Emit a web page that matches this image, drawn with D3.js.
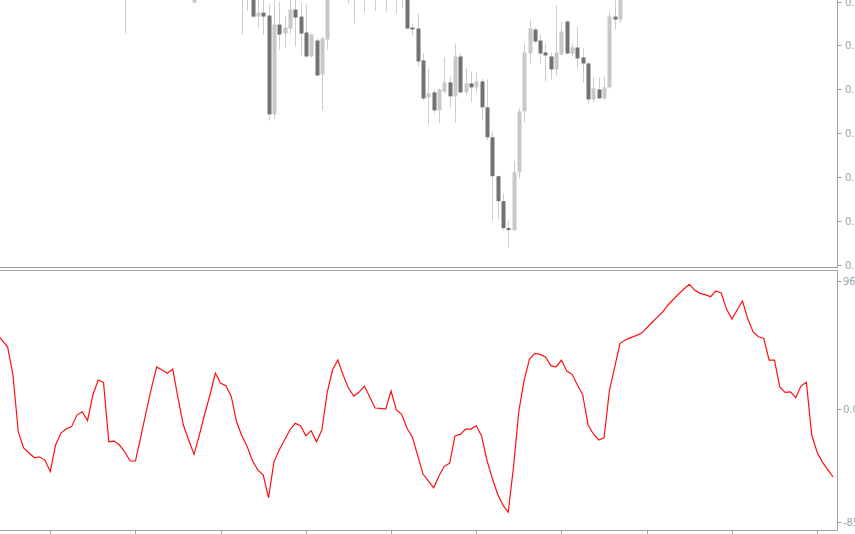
<html lang="en">
  <head>
    <meta charset="utf-8">
    <title>Candles and oscillator</title>
    <script src="https://d3js.org/d3.v7.min.js"></script>
    <style>
      body { margin: 0; background: #fff; }
      text { font-family: "DejaVu Sans", sans-serif; font-size: 10px; fill: #a0a4ac; }
    </style>
  </head>
  <body>
    <script type="text/javascript">
      var w = 855;
      var h = 534;
      var nBars = 158;

      // visible candles (bar index + OHLC)
      var barIdx = [24, 37, 46, 47, 48, 49, 50, 51, 52, 53, 54, 55, 56, 57, 58, 59, 60, 61, 62, 66, 67, 69, 71, 73, 75, 76,
                    77, 78, 79, 80, 81, 82, 83, 84, 85, 86, 87, 88, 89, 90, 91, 92, 93, 94, 95, 96, 97, 98, 99, 100,
                    101, 102, 103, 104, 105, 106, 107, 108, 109, 110, 111, 112, 113, 114, 115, 116, 117];
      var open  = [.7813, .7803, .7810, .7808, .7815, .7789, .7793, .7790, .7691, .7781, .7772, .7777, .7796, .7789, .7773, .7749, .7765, .7731, .7766, .7810, .7810, .7810, .7810, .7810, .7810, .7810,
                   .7815, .7778, .7777, .7745, .7708, .7713, .7695, .7714, .7723, .7709, .7749, .7713, .7722, .7718, .7724, .7698, .7668, .7629, .7604, .7577, .7575, .7633, .7694, .7752,
                   .7776, .7765, .7753, .7749, .7736, .7751, .7784, .7752, .7758, .7748, .7742, .7706, .7716, .7707, .7718, .7789, .7786];
      var high  = [.7840, .7820, .7825, .7825, .7825, .7807, .7807, .7801, .7807, .7804, .7790, .7807, .7807, .7803, .7801, .7772, .7767, .7769, .7820, .7823, .7823, .7823, .7823, .7823, .7823, .7823,
                   .7820, .7782, .7792, .7752, .7737, .7716, .7717, .7748, .7729, .7762, .7752, .7737, .7734, .7733, .7727, .7726, .7674, .7630, .7612, .7585, .7644, .7697, .7762, .7786,
                   .7778, .7771, .7762, .7753, .7800, .7784, .7785, .7762, .7779, .7757, .7743, .7729, .7728, .7729, .7794, .7807, .7820];
      var low   = [.7772, .7802, .7771, .7795, .7788, .7778, .7771, .7685, .7686, .7756, .7758, .7772, .7759, .7750, .7748, .7748, .7729, .7695, .7756, .7802, .7782, .7793, .7795, .7794, .7792, .7798,
                   .7776, .7770, .7739, .7705, .7681, .7692, .7682, .7712, .7698, .7683, .7712, .7710, .7703, .7713, .7685, .7665, .7585, .7586, .7575, .7557, .7574, .7627, .7683, .7742,
                   .7762, .7742, .7724, .7726, .7730, .7750, .7751, .7749, .7737, .7723, .7702, .7703, .7706, .7705, .7717, .7776, .7783];
      var close = [.7830, .7811, .7820, .7817, .7789, .7793, .7789, .7691, .7781, .7771, .7778, .7796, .7788, .7772, .7749, .7771, .7730, .7767, .7815, .7817, .7817, .7817, .7817, .7817, .7817, .7817,
                   .7777, .7776, .7744, .7707, .7712, .7695, .7716, .7723, .7709, .7749, .7713, .7722, .7718, .7724, .7698, .7668, .7629, .7604, .7577, .7575, .7633, .7694, .7753, .7777,
                   .7764, .7752, .7750, .7736, .7753, .7774, .7752, .7758, .7747, .7742, .7706, .7717, .7707, .7718, .7789, .7786, .7815];

      // oscillator, one value per bar
      var osc = [56.2, 51.3, 46.4, 25.4, -17.4, -29.4, -33.2, -36.6, -36.2, -38.5,
                 -47.2, -27.2, -18.2, -15.2, -13.4, -4.7, -2.2, -8.9, 10.4, 21.6,
                 19.9, -24.7, -24.2, -27.2, -32.4, -39.2, -39.2, -21.0, -2.4, 15.6,
                 31.4, 29.1, 26.7, 29.9, 8.1, -12.2, -23.4, -34.2, -19.7, -3.9,
                 10.4, 26.7, 19.2, 17.3, 9.1, -9.9, -20.4, -28.5, -39.2, -46.0,
                 -49.7, -66.8, -40.0, -30.9, -23.4, -15.9, -10.9, -12.7, -20.2, -16.4,
                 -24.7, -15.9, 11.9, 29.1, 36.6, 25.4, 15.6, 9.6, 12.6, 17.1,
                 8.9, 0.6, 0.4, -0.2, 13.4, -0.9, -4.1, -14.6, -21.2, -35.0,
                 -49.0, -54.2, -59.3, -50.5, -43.0, -40.9, -20.4, -19.2, -15.2, -15.2,
                 -12.7, -20.4, -38.5, -52.0, -64.0, -72.2, -77.7, -43.7, -1.7, 21.6,
                 37.4, 41.7, 40.9, 38.9, 32.4, 31.6, 36.6, 28.4, 25.9, 17.9,
                 10.4, -12.2, -18.9, -23.4, -21.7, 13.4, 31.4, 49.2, 51.7, 53.5,
                 55.0, 56.7, 60.7, 64.8, 68.9, 72.7, 78.0, 82.1, 86.2, 90.0,
                 93.5, 89.2, 86.7, 85.8, 84.2, 88.5, 87.0, 74.9, 67.4, 74.2,
                 81.0, 67.4, 57.7, 54.1, 52.8, 36.6, 36.6, 16.4, 12.4, 12.8,
                 8.3, 17.3, 19.9, -19.7, -32.4, -40.0, -45.6, -51.2];

      var priceTicks = [0.7540, 0.7584, 0.7628, 0.7672, 0.7716, 0.7760, 0.7804];
      var oscTicks = [-85, 0, 96];
      var oscLabels = ["-85.00", "0.00", "96.00"];
      var timeTicks = [10, 26, 42, 58, 74, 90, 106, 122, 138, 154];

      var axisX = 837.5;
      var topBottom = 267.5;
      var botTop = 270.5;
      var botBottom = 530.5;

      var xScale = d3.scaleLinear().domain([0, nBars - 1]).range([-3, -3 + (nBars - 1) * 5.325]);
      var yPrice = d3.scaleLinear().domain([0.7540, 0.7804]).range([265, 1.6]);
      var yOsc = d3.scaleLinear().domain([-85, 96]).range([522, 281]);

      var svg = d3.select("body").append("svg")
                  .attr("width", w)
                  .attr("height", h);

      var defs = svg.append("defs");
      defs.append("clipPath").attr("id", "clipTop")
          .append("rect").attr("x", 0).attr("y", 0).attr("width", axisX).attr("height", topBottom);
      defs.append("clipPath").attr("id", "clipBot")
          .append("rect").attr("x", 0).attr("y", botTop + 0.5).attr("width", axisX).attr("height", botBottom - botTop - 1);

      // candles
      var candles = barIdx.map(function (b, i) {
        return {b: b, o: open[i], h: high[i], l: low[i], c: close[i]};
      });
      var gTop = svg.append("g").attr("clip-path", "url(#clipTop)");
      gTop.selectAll("line.wick")
          .data(candles)
          .enter()
          .append("line")
          .attr("class", "wick")
          .attr("x1", function (d) { return Math.round(xScale(d.b)) + 0.5; })
          .attr("x2", function (d) { return Math.round(xScale(d.b)) + 0.5; })
          .attr("y1", function (d) { return yPrice(d.h); })
          .attr("y2", function (d) { return yPrice(d.l); })
          .style("stroke", "#cdcdcd")
          .attr("stroke-width", 1);
      gTop.selectAll("rect.body")
          .data(candles)
          .enter()
          .append("rect")
          .attr("class", "body")
          .attr("x", function (d) { return Math.round(xScale(d.b)) - 1.5; })
          .attr("width", 4)
          .attr("y", function (d) { return yPrice(Math.max(d.o, d.c)); })
          .attr("height", function (d) { return Math.max(1.5, Math.abs(yPrice(d.o) - yPrice(d.c))); })
          .style("fill", function (d) { return d.c >= d.o ? "#c8c8c8" : "#727272"; });

      // oscillator line
      var line = d3.line()
                   .x(function (d, i) { return xScale(i); })
                   .y(function (d) { return yOsc(d); });
      svg.append("g").attr("clip-path", "url(#clipBot)")
         .append("path")
         .datum(osc)
         .attr("d", line)
         .style("fill", "none")
         .style("stroke", "#ff1010")
         .attr("stroke-width", 1.2);

      // frames
      var frame = "#a0a0a0";
      svg.append("line").attr("x1", 0).attr("x2", axisX).attr("y1", topBottom).attr("y2", topBottom)
         .style("stroke", frame);
      svg.append("line").attr("x1", axisX).attr("x2", axisX).attr("y1", 0).attr("y2", topBottom)
         .style("stroke", frame);
      svg.append("line").attr("x1", 0).attr("x2", axisX).attr("y1", botTop).attr("y2", botTop)
         .style("stroke", frame);
      svg.append("line").attr("x1", axisX).attr("x2", axisX).attr("y1", botTop).attr("y2", botBottom)
         .style("stroke", frame);
      svg.append("line").attr("x1", 0).attr("x2", axisX).attr("y1", botBottom).attr("y2", botBottom)
         .style("stroke", frame);

      // right price axis
      var gP = svg.append("g");
      priceTicks.forEach(function (p) {
        var y = Math.round(yPrice(p)) + 0.5;
        gP.append("line").attr("x1", axisX).attr("x2", axisX + 4).attr("y1", y).attr("y2", y).style("stroke", frame);
        gP.append("text").attr("x", 845).attr("y", y).attr("dy", "0.35em").text(p.toFixed(5));
      });

      // right oscillator axis
      oscTicks.forEach(function (v, i) {
        var y = Math.round(yOsc(v)) + 0.5;
        gP.append("line").attr("x1", axisX).attr("x2", axisX + 4).attr("y1", y).attr("y2", y).style("stroke", frame);
        gP.append("text").attr("x", 843).attr("y", y).attr("dy", "0.35em").text(oscLabels[i]);
      });

      // time ticks at bottom
      timeTicks.forEach(function (t) {
        var x = Math.round(xScale(t)) + 0.5;
        svg.append("line").attr("x1", x).attr("x2", x).attr("y1", botBottom).attr("y2", botBottom + 5).style("stroke", frame);
      });
    </script>
  </body>
</html>
